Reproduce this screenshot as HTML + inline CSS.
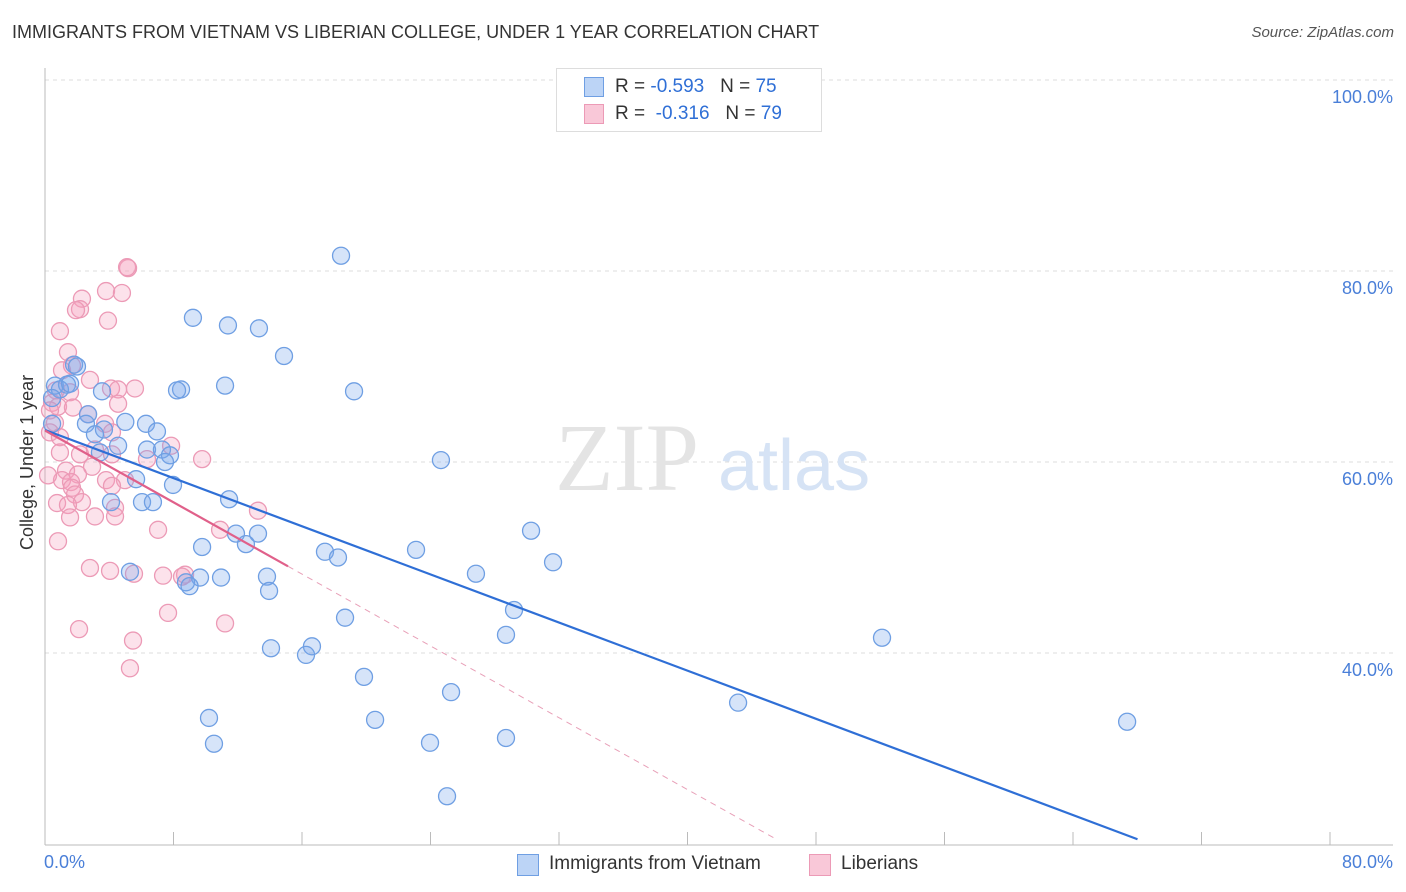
<!DOCTYPE html>
<html><head><meta charset="utf-8"><style>
body{margin:0;background:#fff;font-family:"Liberation Sans",sans-serif;}
#wrap{position:relative;width:1406px;height:892px;overflow:hidden;}
.t{position:absolute;white-space:nowrap;}
</style></head><body>
<div id="wrap">
<div class="t" style="left:12px;top:22px;font-size:18px;color:#333;">IMMIGRANTS FROM VIETNAM VS LIBERIAN COLLEGE, UNDER 1 YEAR CORRELATION CHART</div>
<div class="t" style="right:12px;top:24px;font-size:15px;color:#555;font-style:italic;">Source: ZipAtlas.com</div>
<svg id="svg" width="1406" height="892" style="position:absolute;left:0;top:0"></svg>
</div>
<script>
const blueX=[18.43,9.21,11.39,13.32,14.88,1.81,1.99,11.21,8.47,8.22,19.24,0.62,1.37,0.93,1.56,3.55,0.44,2.68,2.55,0.44,5.0,3.67,6.29,3.11,6.97,4.55,6.35,7.28,3.42,7.78,7.47,24.65,5.67,7.97,4.11,6.04,6.72,11.46,30.26,11.89,13.26,12.51,9.78,23.1,17.43,18.24,31.63,5.29,26.83,9.65,8.78,9.0,10.96,13.82,13.95,29.2,18.68,28.7,52.11,16.62,14.07,16.25,19.86,25.28,43.15,10.21,20.55,67.37,10.52,23.97,28.7,25.03];
const blueY=[81.6,75.1,74.3,74.0,71.1,70.2,70.0,68.0,67.6,67.5,67.4,68.0,68.1,67.6,68.2,67.4,66.7,65.0,64.0,64.0,64.2,63.4,64.0,62.9,63.2,61.7,61.3,61.3,61.0,60.7,60.0,60.2,58.2,57.6,55.8,55.8,55.8,56.1,52.8,52.5,52.5,51.4,51.1,50.8,50.6,50.0,49.5,48.5,48.3,47.9,47.4,47.0,47.9,48.0,46.5,44.5,43.7,41.9,41.6,40.7,40.5,39.8,37.5,35.9,34.8,33.2,33.0,32.8,30.5,30.6,31.1,25.0];
const pinkX=[5.17,5.11,3.80,4.79,2.30,2.18,1.93,3.92,0.93,1.43,1.68,1.06,2.80,4.11,4.55,5.60,0.68,1.56,0.44,0.81,0.31,1.74,4.55,2.68,0.62,0.31,0.93,3.74,4.17,7.85,6.35,9.78,0.93,2.18,3.11,4.17,1.31,2.93,2.05,3.80,4.98,1.06,1.62,1.68,1.87,4.17,0.75,2.30,1.43,4.36,3.11,1.56,4.36,13.26,7.04,10.90,0.81,2.80,4.05,5.54,7.35,8.72,8.53,7.66,11.21,2.12,5.48,5.29,0.19];
const pinkY=[80.3,80.4,77.9,77.7,77.1,76.0,75.9,74.8,73.7,71.5,70.1,69.6,68.6,67.7,67.6,67.7,67.5,67.3,66.2,65.8,65.4,65.7,66.1,65.0,64.1,63.1,62.6,64.0,63.1,61.7,60.3,60.3,61.0,60.8,61.3,60.8,59.1,59.5,58.7,58.1,58.1,58.1,57.9,57.3,56.6,57.5,55.7,55.8,55.5,55.2,54.3,54.2,54.3,54.9,52.9,52.9,51.7,48.9,48.6,48.3,48.1,48.2,48.0,44.2,43.1,42.5,41.3,38.4,58.6];
const yTicks=[100,80,60,40];
const yTickLabels=["100.0%","80.0%","60.0%","40.0%"];
const blueTrend=[63.35,-0.63]; // intercept, slope
const pinkTrend=[63.3,-0.94];
const pinkSolidEnd=15.13;

const sx=v=>45+v*1285/80;
const sy=v=>80+(100-v)*191/20;
const NS="http://www.w3.org/2000/svg";
const svg=document.getElementById('svg');
function mk(tag,attrs,parent){const e=document.createElementNS(NS,tag);for(const k in attrs)e.setAttribute(k,attrs[k]);(parent||svg).appendChild(e);return e;}

// grid
yTicks.forEach((v,i)=>{
 const g=mk('line',{x1:45,x2:1393,y1:sy(v),y2:sy(v),stroke:'#ddd','stroke-dasharray':'4,4'});
 
 
 const t=mk('text',{x:1393,y:sy(v)+23,'text-anchor':'end','font-size':'18',fill:'#4a7fd8','font-family':'Liberation Sans'});
 t.textContent=yTickLabels[i];
 
 
});
// axes
const ax=mk('line',{x1:45,x2:45,y1:68,y2:845,stroke:'#bbb'});


const bx=mk('line',{x1:45,x2:1393,y1:845,y2:845,stroke:'#bbb'});


for(let i=0;i<=10;i++){
 const tk=mk('line',{x1:sx(i*8),x2:sx(i*8),y1:832,y2:845,stroke:'#bbb'});
 
 
}
// watermark
const wm=mk('text',{x:555,y:490,'font-size':'96','font-family':'Liberation Serif',fill:'#e4e4e4'});wm.textContent='ZIP';


const wm2=mk('text',{x:718,y:490,'font-size':'72','font-family':'Liberation Sans',fill:'#d6e3f5'});wm2.textContent='atlas';



function pts(xs,ys,fill,stroke,name){
 xs.forEach((x,i)=>{
  const c=mk('circle',{cx:sx(x),cy:sy(ys[i]),r:8.5,fill:fill,stroke:stroke,'stroke-width':1.3});
  
  
 });
}
pts(pinkX,pinkY,'rgba(245,160,190,0.3)','#ec9ab6','liberian-point');
pts(blueX,blueY,'rgba(120,165,235,0.3)','#6f9fe3','vietnam-point');

// trend lines
const bEnd=(20.5-blueTrend[0])/blueTrend[1];
const bl=mk('line',{x1:sx(0),y1:sy(blueTrend[0]),x2:sx(bEnd),y2:sy(20.5),stroke:'#2f6fd6','stroke-width':2.2});


const pl=mk('line',{x1:sx(0),y1:sy(pinkTrend[0]),x2:sx(pinkSolidEnd),y2:sy(pinkTrend[0]+pinkTrend[1]*pinkSolidEnd),stroke:'#e0608a','stroke-width':2.2});


const pEnd=(20.5-pinkTrend[0])/pinkTrend[1];
const pd=mk('line',{x1:sx(pinkSolidEnd),y1:sy(pinkTrend[0]+pinkTrend[1]*pinkSolidEnd),x2:sx(pEnd),y2:sy(20.5),stroke:'#e8a0b8','stroke-width':1,'stroke-dasharray':'6,5'});


</script>
<div class="t" style="left:44px;top:852px;font-size:18px;color:#4a7fd8">0.0%</div>
<div class="t" style="right:13px;top:852px;font-size:18px;color:#4a7fd8">80.0%</div>
<div class="t" style="left:17px;top:550px;font-size:18px;color:#333;transform:rotate(-90deg);transform-origin:0 0">College, Under 1 year</div>
<div style="position:absolute;left:556px;top:68px;width:264px;height:62px;border:1px solid #ddd;background:#fff">
 <div style="position:absolute;left:27px;top:8px;width:18px;height:18px;background:#bcd4f6;border:1px solid #6f9fe3"></div>
 <div class="t" style="left:58px;top:7px;font-size:19px;color:#333">R = <span style="color:#2f6fd6">-0.593</span>&nbsp;&nbsp;&nbsp;N = <span style="color:#2f6fd6">75</span></div>
 <div style="position:absolute;left:27px;top:35px;width:18px;height:18px;background:#f9c8d8;border:1px solid #ec9ab6"></div>
 <div class="t" style="left:58px;top:34px;font-size:19px;color:#333">R = &nbsp;<span style="color:#2f6fd6">-0.316</span>&nbsp;&nbsp;&nbsp;N = <span style="color:#2f6fd6">79</span></div>
</div>
<div style="position:absolute;left:517px;top:854px;width:20px;height:20px;background:#bcd4f6;border:1px solid #6f9fe3"></div>
<div class="t" style="left:549px;top:853px;font-size:19px;color:#333">Immigrants from Vietnam</div>
<div style="position:absolute;left:809px;top:854px;width:20px;height:20px;background:#f9c8d8;border:1px solid #ec9ab6"></div>
<div class="t" style="left:841px;top:853px;font-size:19px;color:#333">Liberians</div>
</body></html>
